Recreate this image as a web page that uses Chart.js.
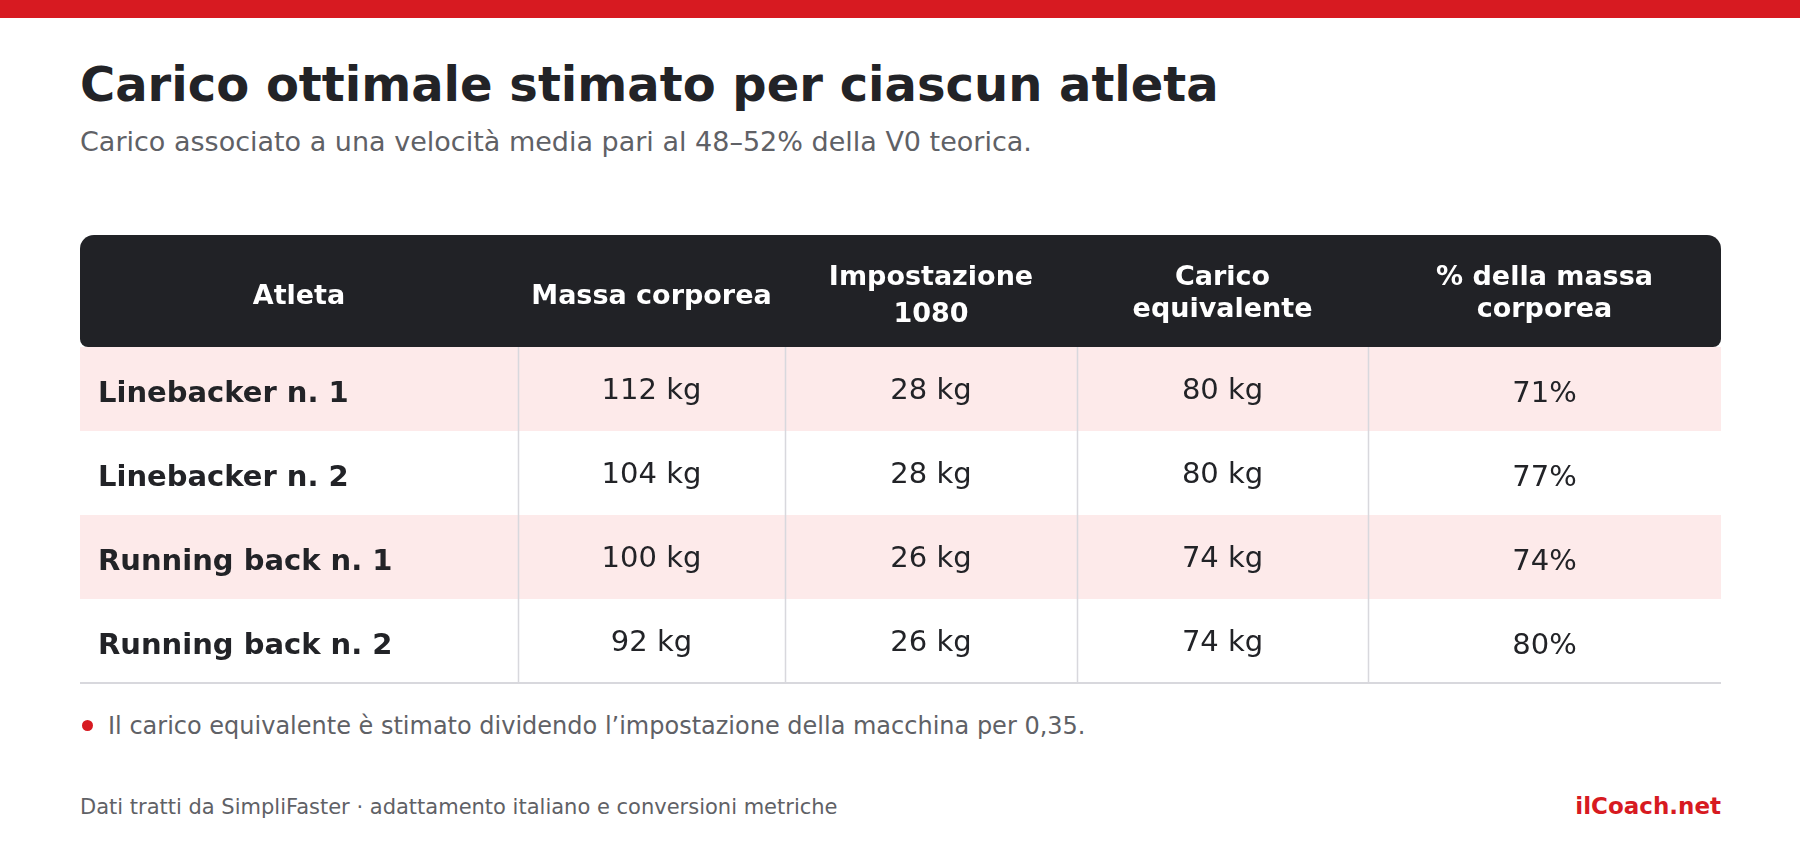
<!DOCTYPE html>
<html>
<head>
<meta charset="utf-8">
<script src="https://cdn.jsdelivr.net/npm/chart.js@4.4.1/dist/chart.umd.min.js"></script>
<style>
  html, body { margin:0; padding:0; background:#ffffff; width:1800px; height:852px; overflow:hidden; font-family:"DejaVu Sans", sans-serif; }
  .topbar { position:absolute; left:0; top:0; width:1800px; height:18px; background:#d71a21; }
  .t { position:absolute; line-height:1; white-space:nowrap; }
  #title { left:80px; top:60px; font-size:48px; font-weight:bold; color:#222327; }
  #subtitle { left:80px; top:128px; font-size:27px; color:#5f6166; }
  #note { left:108px; top:714px; font-size:24px; color:#5f6166; }
  #dot { position:absolute; left:82px; top:720px; width:11px; height:11px; border-radius:50%; background:#d71a21; }
  #source { left:80px; top:797px; font-size:21px; color:#5f6166; }
  #brand { right:79px; top:795px; font-size:23px; font-weight:bold; color:#d71a21; }
  #wrap { position:absolute; left:0; top:220px; width:1800px; height:480px; }
</style>
</head>
<body>
<div class="topbar"></div>
<div class="t" id="title">Carico ottimale stimato per ciascun atleta</div>
<div class="t" id="subtitle">Carico associato a una velocità media pari al 48–52% della V0 teorica.</div>
<div id="wrap"><canvas id="c"></canvas></div>
<div id="dot"></div>
<div class="t" id="note">Il carico equivalente è stimato dividendo l’impostazione della macchina per 0,35.</div>
<div class="t" id="source">Dati tratti da SimpliFaster · adattamento italiano e conversioni metriche</div>
<div class="t" id="brand">ilCoach.net</div>

<script>
// ---- data ----
const athletes = ['Linebacker n. 1', 'Linebacker n. 2', 'Running back n. 1', 'Running back n. 2'];
const bodyMassKg = [112, 104, 100, 92];
const setting1080Kg = [28, 28, 26, 26];
const equivalentLoadKg = [80, 80, 74, 74];
const pctBodyMass = [71, 77, 74, 80];
const columnHeaders = [
  ['Atleta'],
  ['Massa corporea'],
  ['Impostazione', '1080'],
  ['Carico', 'equivalente'],
  ['% della massa', 'corporea']
];

// ---- layout (positions / styles) ----
const layoutCfg = {
  colEdges: [0, 26.69, 42.96, 60.76, 78.49, 100],
  headerH: 112,
  headerR: [14, 14, 8, 8],
  labelPad: 18,
  line2Offset: [26, 26, 31, 26, 26],
  headerBg: '#212226',
  stripe: '#fdeaea',
  divider: '#d8d8dd',
  bottomLine: '#d8d8dd',
  text: '#222327',
  font: '"DejaVu Sans", sans-serif'
};

const cellText = [
  athletes,
  bodyMassKg.map(v => v + ' kg'),
  setting1080Kg.map(v => v + ' kg'),
  equivalentLoadKg.map(v => v + ' kg'),
  pctBodyMass.map(v => v + '%')
];

const tablePlugin = {
  id: 'tablePlugin',
  beforeDatasetsDraw(chart) {
    const ctx = chart.ctx;
    const xs = chart.scales.x, ys = chart.scales.y;
    const L = layoutCfg;
    const left = xs.getPixelForValue(L.colEdges[0]);
    const right = xs.getPixelForValue(L.colEdges[L.colEdges.length - 1]);
    const band = ys.getPixelForValue(1) - ys.getPixelForValue(0);
    const top = ys.getPixelForValue(0) - band / 2;
    const bottom = ys.getPixelForValue(athletes.length - 1) + band / 2;
    ctx.save();

    // header
    ctx.fillStyle = L.headerBg;
    ctx.beginPath();
    ctx.roundRect(left, top - L.headerH, right - left, L.headerH, L.headerR);
    ctx.fill();

    const hc = top - L.headerH / 2;
    ctx.fillStyle = '#ffffff';
    ctx.font = 'bold 27px ' + L.font;
    ctx.textAlign = 'center';
    ctx.textBaseline = 'alphabetic';
    columnHeaders.forEach((lines, c) => {
      const cx = xs.getPixelForValue((L.colEdges[c] + L.colEdges[c + 1]) / 2);
      if (lines.length === 1) {
        ctx.fillText(lines[0], cx, hc + 13);
      } else {
        ctx.fillText(lines[0], cx, hc - 6);
        ctx.fillText(lines[1], cx, hc + L.line2Offset[c]);
      }
    });

    // stripes
    athletes.forEach((a, i) => {
      if (i % 2 === 0) {
        const cy = ys.getPixelForValue(i);
        ctx.fillStyle = L.stripe;
        ctx.fillRect(left, cy - band / 2, right - left, band);
      }
    });

    // dividers
    ctx.strokeStyle = L.divider;
    ctx.lineWidth = 1.5;
    for (let k = 1; k < L.colEdges.length - 1; k++) {
      const px = Math.round(xs.getPixelForValue(L.colEdges[k])) + 0.5;
      ctx.beginPath();
      ctx.moveTo(px, top);
      ctx.lineTo(px, bottom);
      ctx.stroke();
    }
    // bottom line
    ctx.strokeStyle = L.bottomLine;
    ctx.lineWidth = 2;
    ctx.beginPath();
    ctx.moveTo(left, bottom);
    ctx.lineTo(right, bottom);
    ctx.stroke();

    // cells
    ctx.fillStyle = L.text;
    cellText.forEach((col, c) => {
      col.forEach((txt, r) => {
        const cy = ys.getPixelForValue(r);
        if (c === 0) {
          ctx.font = 'bold 29px ' + L.font;
          ctx.textAlign = 'left';
          ctx.fillText(txt, left + L.labelPad, cy + 13);
        } else {
          ctx.font = '29px ' + L.font;
          ctx.textAlign = 'center';
          const cx = xs.getPixelForValue((L.colEdges[c] + L.colEdges[c + 1]) / 2);
          ctx.fillText(txt, cx, cy + (c === 4 ? 13 : 10));
        }
      });
    });
    ctx.restore();
  }
};

new Chart(document.getElementById('c'), {
  type: 'bar',
  data: {
    labels: athletes,
    datasets: [{ label: 'Carico equivalente', data: [], backgroundColor: 'rgba(0,0,0,0)' }]
  },
  options: {
    indexAxis: 'y',
    responsive: true,
    maintainAspectRatio: false,
    animation: false,
    events: [],
    layout: { padding: { left: 80, right: 79, top: 127, bottom: 17 } },
    plugins: { legend: { display: false }, tooltip: { enabled: false }, title: { display: false } },
    scales: {
      x: { type: 'linear', min: 0, max: 100, display: false },
      y: { type: 'category', offset: true, display: false }
    }
  },
  plugins: [tablePlugin]
});
</script>
</body>
</html>
